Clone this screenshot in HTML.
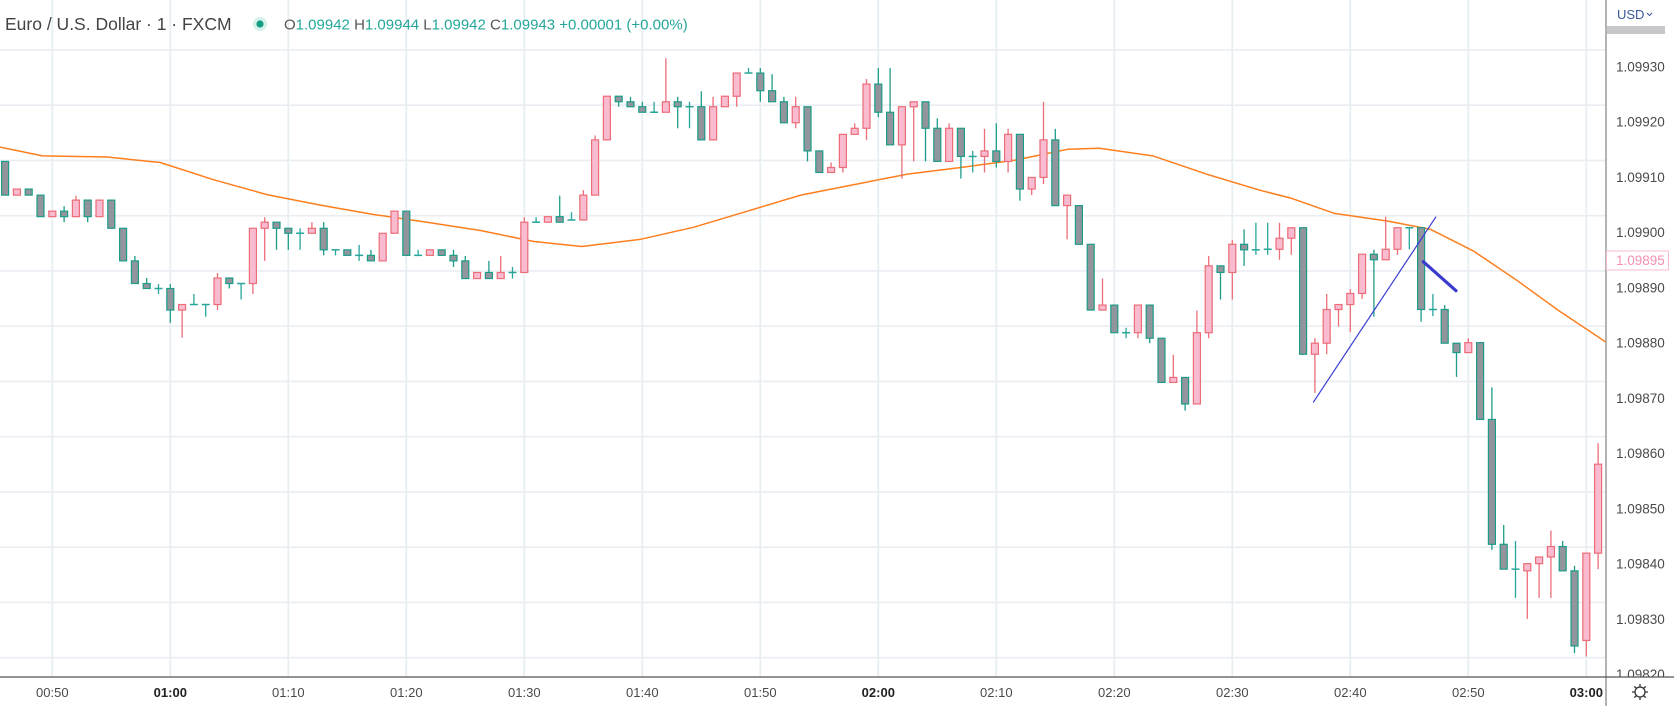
<!DOCTYPE html>
<html><head><meta charset="utf-8"><style>
html,body{margin:0;padding:0;background:#fff;}
svg{display:block;font-family:"Liberation Sans",sans-serif;}
</style></head><body>
<svg id="chart" width="1674" height="706" viewBox="0 0 1674 706" xmlns="http://www.w3.org/2000/svg">
<g id="grid"></g>
<g id="ma"></g>
<g id="candles"></g>
<g id="drawings">
<line x1="1313.2" y1="402.4" x2="1436" y2="216.7" stroke="#3a3ad6" stroke-width="1.2"/>
<line x1="1423.3" y1="261.7" x2="1456" y2="290.7" stroke="#3b3bd0" stroke-width="3.2" stroke-linecap="round"/>
</g>
<rect x="1606" y="0" width="68" height="677" fill="#fff"/>
<line x1="1606" y1="0" x2="1606" y2="706" stroke="#9a9a9a" stroke-width="1.5"/>
<line x1="0" y1="677" x2="1606" y2="677" stroke="#555" stroke-width="1.2"/>
<g id="plabels"></g>
<g id="tlabels"></g>
<rect x="1607" y="677" width="67" height="29" fill="#fff"/>
<line x1="1606" y1="677" x2="1674" y2="677" stroke="#555" stroke-width="1.2"/>
<text x="1617" y="19" font-size="13" fill="#3a5a9a">USD</text>
<path d="M1647 13 l2.5 2.5 l2.5 -2.5" fill="none" stroke="#3a5a9a" stroke-width="1"/>
<rect x="1607" y="26" width="58" height="8" fill="#c8c8cc"/>
<g>
<rect x="1606.5" y="251" width="62" height="19" fill="#fff" stroke="#f8bbd0" stroke-width="1"/>
<text x="1616" y="265" font-size="13.5" fill="#f48fb1">1.09895</text>
</g>
<g transform="translate(1640,692)">
<circle r="5" fill="none" stroke="#333" stroke-width="1.3"/>
<path d="M0 -8 V-5 M0 5 V8 M-8 0 H-5 M5 0 H8 M-5.7 -5.7 L-3.5 -3.5 M3.5 3.5 L5.7 5.7 M-5.7 5.7 L-3.5 3.5 M3.5 -3.5 L5.7 -5.7" stroke="#333" stroke-width="1.3"/>
</g>
<g>
<text x="5" y="30" font-size="17.5" fill="#444">Euro / U.S. Dollar · 1 · FXCM</text>
<circle cx="260" cy="24" r="7" fill="#d6f0ec"/>
<circle cx="260" cy="24" r="3.6" fill="#149c84"/>
<text x="284" y="29.5" font-size="15" fill="#26a69a"><tspan fill="#555">O</tspan>1.09942 <tspan fill="#555">H</tspan>1.09944 <tspan fill="#555">L</tspan>1.09942 <tspan fill="#555">C</tspan>1.09943 +0.00001 (+0.00%)</text>
</g>
</svg>
<script>
const opens=[1.099129,1.099068,1.099079,1.099068,1.099029,1.099039,1.099029,1.099059,1.099029,1.099059,1.099008,1.098949,1.098908,1.098899,1.098899,1.098860,1.098870,1.098870,1.098870,1.098918,1.098908,1.098908,1.099008,1.099019,1.099008,1.098999,1.098999,1.099008,1.098969,1.098969,1.098959,1.098959,1.098949,1.098999,1.099039,1.098959,1.098959,1.098969,1.098959,1.098949,1.098917,1.098928,1.098917,1.098928,1.098928,1.099019,1.099019,1.099029,1.099023,1.099023,1.099068,1.099168,1.099247,1.099237,1.099228,1.099218,1.099218,1.099237,1.099228,1.099228,1.099168,1.099228,1.099247,1.099289,1.099289,1.099257,1.099237,1.099199,1.099228,1.099148,1.099109,1.099118,1.099178,1.099189,1.099269,1.099218,1.099159,1.099228,1.099237,1.099189,1.099129,1.099189,1.099138,1.099138,1.099148,1.099129,1.099178,1.099079,1.099100,1.099168,1.099049,1.099049,1.098979,1.098860,1.098869,1.098819,1.098819,1.098869,1.098809,1.098729,1.098738,1.098690,1.098819,1.098940,1.098928,1.098979,1.098969,1.098970,1.098970,1.098990,1.099009,1.098780,1.098800,1.098861,1.098870,1.098890,1.098961,1.098951,1.098970,1.099009,1.099009,1.098861,1.098861,1.098800,1.098783,1.098801,1.098662,1.098436,1.098391,1.098388,1.098401,1.098413,1.098432,1.098388,1.098262,1.098420];
const highs=[1.099129,1.099079,1.099079,1.099068,1.099039,1.099048,1.099067,1.099059,1.099059,1.099059,1.099008,1.098958,1.098918,1.098907,1.098907,1.098870,1.098889,1.098870,1.098927,1.098918,1.098908,1.099008,1.099028,1.099019,1.099008,1.099008,1.099019,1.099019,1.098969,1.098969,1.098978,1.098969,1.098999,1.099039,1.099039,1.098969,1.098969,1.098969,1.098969,1.098958,1.098928,1.098949,1.098958,1.098938,1.099028,1.099028,1.099029,1.099067,1.099037,1.099077,1.099176,1.099247,1.099247,1.099246,1.099237,1.099237,1.099316,1.099246,1.099237,1.099256,1.099246,1.099247,1.099289,1.099298,1.099298,1.099287,1.099246,1.099246,1.099228,1.099148,1.099127,1.099178,1.099198,1.099278,1.099298,1.099298,1.099228,1.099237,1.099237,1.099207,1.099198,1.099189,1.099148,1.099188,1.099198,1.099188,1.099178,1.099100,1.099237,1.099188,1.099068,1.099049,1.098979,1.098917,1.098869,1.098828,1.098869,1.098869,1.098809,1.098779,1.098738,1.098859,1.098958,1.098940,1.098987,1.099006,1.099018,1.099018,1.099018,1.099009,1.099009,1.098809,1.098889,1.098870,1.098898,1.098961,1.098969,1.099029,1.099009,1.099009,1.099009,1.098889,1.098869,1.098800,1.098809,1.098801,1.098720,1.098471,1.098442,1.098401,1.098413,1.098461,1.098442,1.098397,1.098420,1.098619];
const lows=[1.099068,1.099068,1.099068,1.099029,1.099029,1.099019,1.099029,1.099019,1.099029,1.099008,1.098949,1.098908,1.098899,1.098889,1.098837,1.098810,1.098870,1.098848,1.098860,1.098899,1.098879,1.098889,1.098949,1.098969,1.098969,1.098969,1.098999,1.098959,1.098959,1.098959,1.098949,1.098949,1.098949,1.098999,1.098959,1.098959,1.098959,1.098959,1.098938,1.098917,1.098917,1.098917,1.098917,1.098917,1.098928,1.099019,1.099019,1.099019,1.099023,1.099023,1.099068,1.099168,1.099228,1.099228,1.099218,1.099218,1.099218,1.099189,1.099189,1.099168,1.099168,1.099228,1.099228,1.099289,1.099237,1.099237,1.099199,1.099189,1.099129,1.099109,1.099109,1.099109,1.099178,1.099168,1.099209,1.099159,1.099098,1.099129,1.099129,1.099129,1.099129,1.099098,1.099109,1.099109,1.099118,1.099109,1.099058,1.099068,1.099088,1.099049,1.098988,1.098979,1.098860,1.098860,1.098819,1.098809,1.098809,1.098800,1.098729,1.098729,1.098678,1.098690,1.098809,1.098879,1.098879,1.098940,1.098960,1.098960,1.098951,1.098960,1.098780,1.098710,1.098780,1.098830,1.098820,1.098880,1.098848,1.098951,1.098960,1.098970,1.098839,1.098849,1.098800,1.098739,1.098783,1.098662,1.098426,1.098391,1.098339,1.098301,1.098339,1.098339,1.098388,1.098239,1.098233,1.098391];
const closes=[1.099068,1.099079,1.099068,1.099029,1.099039,1.099029,1.099059,1.099029,1.099059,1.099008,1.098949,1.098908,1.098899,1.098899,1.098860,1.098870,1.098870,1.098870,1.098918,1.098908,1.098908,1.099008,1.099019,1.099008,1.098999,1.098999,1.099008,1.098969,1.098969,1.098959,1.098959,1.098949,1.098999,1.099039,1.098959,1.098959,1.098969,1.098959,1.098949,1.098917,1.098928,1.098917,1.098928,1.098928,1.099019,1.099019,1.099029,1.099019,1.099023,1.099068,1.099168,1.099247,1.099237,1.099228,1.099218,1.099218,1.099237,1.099228,1.099228,1.099168,1.099228,1.099247,1.099289,1.099289,1.099257,1.099237,1.099199,1.099228,1.099148,1.099109,1.099118,1.099178,1.099189,1.099269,1.099218,1.099159,1.099228,1.099237,1.099189,1.099129,1.099189,1.099138,1.099138,1.099148,1.099129,1.099178,1.099079,1.099100,1.099168,1.099049,1.099068,1.098979,1.098860,1.098869,1.098819,1.098819,1.098869,1.098809,1.098729,1.098738,1.098690,1.098819,1.098940,1.098928,1.098979,1.098969,1.098969,1.098970,1.098990,1.099009,1.098780,1.098800,1.098861,1.098870,1.098890,1.098961,1.098951,1.098970,1.099009,1.099009,1.098861,1.098861,1.098800,1.098783,1.098801,1.098662,1.098436,1.098391,1.098391,1.098401,1.098413,1.098432,1.098388,1.098252,1.098420,1.098581];
const firstMinute=46;
const maMinutes=[45.57,49.19,54.62,59.14,63.66,68.19,72.71,77.24,81.75,86.28,90.81,94.87,99.86,104.37,108.9,113.42,117.95,122.47,126.99,131.52,136.04,138.75,143.28,147.81,152.33,155.04,158.66,163.19,166.81,170.42,174.04,177.66,181.73];
const maValues=[1.099155,1.099139,1.099137,1.099127,1.099096,1.099069,1.099050,1.099033,1.099019,1.099004,1.098984,1.098975,1.098988,1.099010,1.099039,1.099068,1.099087,1.099106,1.099118,1.099131,1.099151,1.099153,1.099139,1.099106,1.099077,1.099062,1.099035,1.099021,1.099006,1.098967,1.098915,1.098859,1.098801];
const priceTicks=[1.09940,1.09930,1.09920,1.09910,1.09900,1.09890,1.09880,1.09870,1.09860,1.09850,1.09840,1.09830,1.09820];
const timeTickMinutes=[50,60,70,80,90,100,110,120,130,140,150,160,170,180];
const timeTickLabels=["00:50","01:00","01:10","01:20","01:30","01:40","01:50","02:00","02:10","02:20","02:30","02:40","02:50","03:00"];

const NS="http://www.w3.org/2000/svg";
function xScale(minute){return 5.1+(minute-firstMinute)*11.8;}
function yScale(p){return 232.7+(1.099-p)*552500;}
function mk(tag,attrs,parent){const e=document.createElementNS(NS,tag);for(const k in attrs)e.setAttribute(k,attrs[k]);parent.appendChild(e);return e;}

const grid=document.getElementById('grid');
priceTicks.forEach(p=>{
  const y=yScale(p)-17;
  const l=mk('line',{x1:0,x2:1606,y1:y,y2:y,stroke:'#e9eef3','stroke-width':1.6},grid);
  
  
});
timeTickMinutes.forEach(m=>{
  const x=xScale(m);
  const l=mk('line',{x1:x,x2:x,y1:0,y2:677,stroke:'#e6edf3','stroke-width':1.6},grid);
  
  
});

const pl=document.getElementById('plabels');
priceTicks.forEach(p=>{
  const y=yScale(p);
  if(y<45||y>690)return;
  const t=mk('text',{x:1616,y:y+4.5,'font-size':13.5,fill:'#4a4a4a'},pl);
  t.textContent=p.toFixed(5);
  
  
});
const tl=document.getElementById('tlabels');
timeTickMinutes.forEach((m,i)=>{
  const lab=timeTickLabels[i];
  const bold=lab.endsWith(':00');
  const t=mk('text',{x:xScale(m),y:697,'font-size':13,'text-anchor':'middle',fill:bold?'#222':'#4a4a4a','font-weight':bold?'bold':'normal'},tl);
  t.textContent=lab;
  
  
});

const ma=document.getElementById('ma');
let d='';
maMinutes.forEach((m,i)=>{d+=(i?'L':'M')+xScale(m).toFixed(1)+' '+yScale(maValues[i]).toFixed(1)+' ';});
const mp=mk('path',{d:d,fill:'none',stroke:'#ff7f1e','stroke-width':1.5,'stroke-linejoin':'round'},ma);



const cg=document.getElementById('candles');
opens.forEach((o,i)=>{
  const c=closes[i],h=highs[i],l=lows[i];
  const x=xScale(firstMinute+i);
  const up=c>o, flat=Math.abs(c-o)<1e-7;
  const stroke=flat?'#26a69a':(up?'#ec6c78':'#1c9c88');
  const fill=up?'#f8bbd0':'#93959c';
  const g=mk('g',{},cg);
  
  
  mk('line',{x1:x,x2:x,y1:yScale(h),y2:yScale(l),stroke:stroke,'stroke-width':1.3},g);
  const yt=yScale(Math.max(o,c)), yb=yScale(Math.min(o,c));
  if(flat){
    mk('line',{x1:x-4,x2:x+4,y1:yt,y2:yt,stroke:stroke,'stroke-width':1.5},g);
  }else{
    mk('rect',{x:x-3.5,y:yt,width:7,height:Math.max(1,yb-yt),fill:fill,stroke:stroke,'stroke-width':1.2},g);
  }
});
</script>
</body></html>
